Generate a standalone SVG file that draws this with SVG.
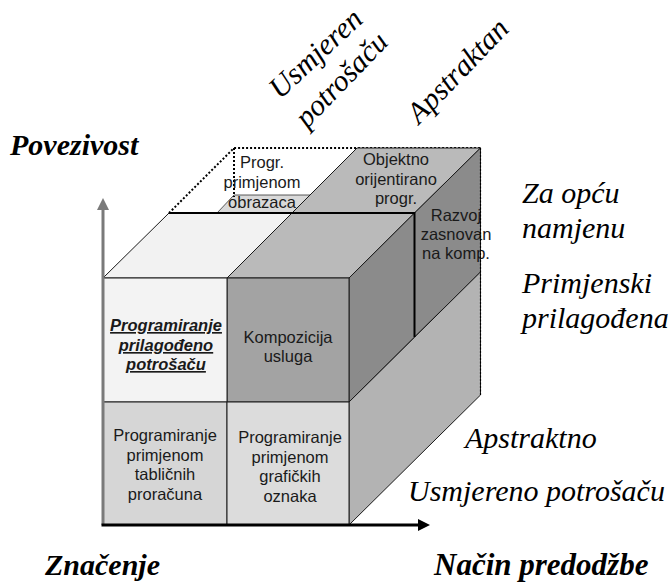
<svg xmlns="http://www.w3.org/2000/svg" width="669" height="587" viewBox="0 0 669 587">
<style>
.face{stroke:#1a1a1a;stroke-width:1;stroke-linejoin:round}
.t{font-family:"Liberation Sans",Arial,sans-serif;font-size:16.5px;fill:#1a1a1a;text-anchor:middle}
.tb{font-weight:bold;font-style:italic;text-decoration:underline}
.dot{fill:none;stroke:#000;stroke-width:2;stroke-dasharray:2 2}
.dotthin{fill:none;stroke:#000;stroke-width:1.2;stroke-dasharray:2 1.5}
.edge{fill:none;stroke:#000;stroke-width:2}
</style>
<defs>
<marker id="ahGray" markerWidth="4" markerHeight="4" refX="1" refY="2" orient="auto" markerUnits="strokeWidth"><path d="M0,0 L4,2 L0,4 Z" fill="#7a7a7a"/></marker>
<marker id="ahBlack" markerWidth="4" markerHeight="4" refX="1" refY="2" orient="auto" markerUnits="strokeWidth"><path d="M0,0 L4,2 L0,4 Z" fill="#000"/></marker>
</defs>

<!-- back-left dotted block -->
<g id="block-obrazaci">
<polygon points="217,213 292,213 310,195 234,195" fill="#d9d9d9" stroke="#333" stroke-width="0.8"/>
<path class="dot" d="M169,213 L234,148 L480.5,148"/>
<path class="dot" d="M234,148 L234,197"/>
<text class="t"><tspan x="262" y="168">Progr.</tspan><tspan x="262" y="188">primjenom</tspan><tspan x="262" y="208">obrazaca</tspan></text>
</g>

<!-- back-right block top -->
<g id="block-objektno">
<polygon class="face" points="292,213 414.5,213 480.5,148 357,148" fill="#bababa" stroke-width="0.8"/>
<text class="t"><tspan x="396" y="165">Objektno</tspan><tspan x="396" y="185">orijentirano</tspan><tspan x="396" y="204">progr.</tspan></text>
</g>

<!-- back-right block right face -->
<g id="block-razvoj">
<polygon class="face" points="414.5,213 480.5,148 480.5,272 414.5,337" fill="#8b8b8b" stroke-width="0.8"/>
<text class="t"><tspan x="456" y="221">Razvoj</tspan><tspan x="456" y="240">zasnovan</tspan><tspan x="456" y="259">na komp.</tspan></text>
</g>

<!-- lower layer right face -->
<g id="lower-side">
<polygon class="face" points="349,402 480.5,272 480.5,395 349,525" fill="#b3b3b3"/>
</g>

<!-- front-right upper block -->
<g id="block-kompozicija">
<polygon class="face" points="227,278 349,278 414.5,213 292,213" fill="#bababa"/>
<polygon class="face" points="349,278 414.5,213 414.5,337 349,402" fill="#8b8b8b"/>
<rect class="face" x="227" y="278" width="122" height="124" fill="#a3a3a3"/>
<text class="t"><tspan x="288" y="343">Kompozicija</tspan><tspan x="288" y="362">usluga</tspan></text>
</g>

<!-- front-left upper block -->
<g id="block-prilagodeno">
<polygon class="face" points="103,278 227,278 292,213 169,213" fill="#f2f2f2"/>
<rect class="face" x="103" y="278" width="124" height="124" fill="#f3f3f3"/>
<text class="t tb"><tspan x="166" y="331">Programiranje</tspan><tspan x="166" y="351">prilagođeno</tspan><tspan x="166" y="370">potrošaču</tspan></text>
</g>

<!-- front-left lower block -->
<g id="block-tablicni">
<rect class="face" x="103" y="402" width="124" height="123" fill="#d6d6d6"/>
<text class="t"><tspan x="165" y="441">Programiranje</tspan><tspan x="165" y="460.5">primjenom</tspan><tspan x="165" y="480">tabličnih</tspan><tspan x="165" y="499.5">proračuna</tspan></text>
</g>

<!-- front-right lower block -->
<g id="block-graficki">
<rect class="face" x="227" y="402" width="122" height="123" fill="#dcdcdc"/>
<text class="t"><tspan x="290" y="443">Programiranje</tspan><tspan x="290" y="462.5">primjenom</tspan><tspan x="290" y="482">grafičkih</tspan><tspan x="290" y="501.5">oznaka</tspan></text>
</g>

<!-- edges and axes -->
<g id="connectors">
<path class="edge" d="M169,213 L414.5,213 L414.5,337"/>
<path class="dotthin" d="M480.5,148 L480.5,395"/>
<line x1="103" y1="525" x2="103" y2="207" stroke="#7a7a7a" stroke-width="3" marker-end="url(#ahGray)"/>
<line x1="101.5" y1="525" x2="421" y2="525" stroke="#000" stroke-width="3" marker-end="url(#ahBlack)"/>
</g>

<!-- axis labels -->
<g id="labels" font-family="Liberation Serif, Times New Roman, serif" font-size="30" font-style="italic" fill="#000">
<text font-weight="bold" x="10" y="155">Povezivost</text>
<text font-weight="bold" x="45" y="575">Značenje</text>
<text font-weight="bold" x="434" y="575" font-size="31">Način predodžbe</text>
<text x="522" y="203">Za opću</text>
<text x="522" y="238">namjenu</text>
<text x="522" y="293">Primjenski</text>
<text x="522" y="328">prilagođena</text>
<text x="465" y="448">Apstraktno</text>
<text x="408" y="501">Usmjereno potrošaču</text>
<text x="280" y="100" transform="rotate(-43 280 100)">Usmjeren</text>
<text x="307" y="129" transform="rotate(-46 307 129)">potrošaču</text>
<text x="419" y="125" transform="rotate(-46 419 125)">Apstraktan</text>
</g>
</svg>
